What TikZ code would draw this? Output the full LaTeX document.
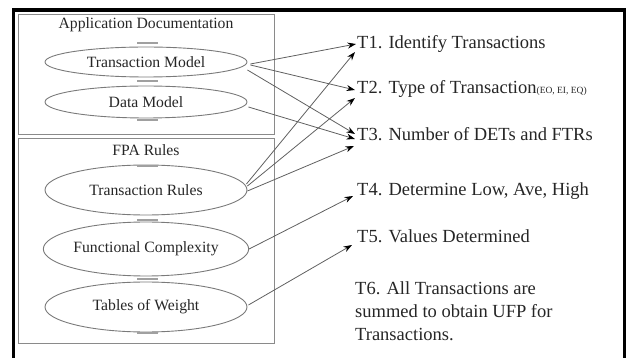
\documentclass[tikz,border=0pt]{standalone}
\usepackage{fontspec}
\setmainfont{Liberation Serif}
\usetikzlibrary{arrows.meta,shapes.geometric}

\definecolor{boxgray}{HTML}{8A8A8A}
\definecolor{ellgray}{HTML}{7A7A7A}
\definecolor{linegray}{HTML}{606060}
\definecolor{ticgray}{HTML}{A0A0A0}
\definecolor{txt}{HTML}{262626}

\begin{document}
\begin{tikzpicture}[x=1pt,y=-1pt,
  panel/.style={draw=boxgray, line width=1pt, rectangle, inner sep=0pt},
  lefttxt/.style={inner sep=0pt, font=\fontsize{15.7}{18}\selectfont, text=txt},
  usecase/.style={ellipse, draw=ellgray, line width=0.9pt, minimum width=202pt,
    inner sep=0pt, font=\fontsize{15.7}{18}\selectfont, text=txt},
  rtxt/.style={anchor=base west, inner sep=0pt, font=\fontsize{18.5}{23}\selectfont, text=txt},
  sep/.style={draw=ticgray, line width=1.6pt},
  flow/.style={draw=linegray, line width=0.8pt, -{Stealth[length=8.5pt,width=6pt,color=black]}}
]
\useasboundingbox (0,0) rectangle (630,358);

% outer frame (open at the bottom)
\draw[line width=3.5pt] (13.5,358) -- (13.5,10) -- (624.5,10) -- (624.5,358);

% the two panels
\node[panel, minimum width=256pt, minimum height=120pt] (appbox) at (146,75) {};
\node[panel, minimum width=256pt, minimum height=205pt] (fpabox) at (146,241.5) {};

\node[lefttxt] (appdoc) at (146,25) {Application Documentation};
\node[lefttxt] (fpa) at (146,150) {FPA Rules};

% use cases
\node[usecase, minimum height=30pt] (tm) at (146,62) {Transaction Model};
\node[usecase, minimum height=32pt] (dm) at (146,102) {Data Model};
\node[usecase, minimum height=50pt] (tr) at (146,190) {Transaction Rules};
\node[usecase, minimum height=54pt, minimum width=204pt] (fc) at (146,249) {Functional Complexity};
\node[usecase, minimum height=50pt] (tw) at (146,307) {Tables of Weight};

% short bars between the use cases
\foreach \yy in {43,81,120,166,220,279,333}
  \draw[sep] (137,\yy) -- (158,\yy);

% steps
\node[rtxt] (t1) at (357,49) {T1. Identify Transactions};
\node[rtxt] (t2) at (357,94) {T2. Type of Transaction{\fontsize{9.5}{10}\selectfont(EO, EI, EQ)}};
\node[rtxt] (t3) at (357,141) {T3. Number of DETs and FTRs};
\node[rtxt] (t4) at (357,196) {T4. Determine Low, Ave, High};
\node[rtxt] (t5) at (357,243) {T5. Values Determined};
\node[anchor=west, inner sep=0pt, align=left, font=\fontsize{18.5}{23}\selectfont, text=txt]
  (t6) at (355,311.5) {T6. All Transactions are\\summed to obtain UFP for\\Transactions.};

% connectors
\draw[flow] ([xshift=3pt,yshift=-2pt]tm.east) -- ([xshift=-1pt,yshift=5pt]t1.base west);
\draw[flow] ([xshift=3pt,yshift=-3pt]tm.east) -- ([xshift=-2pt,yshift=4pt]t2.base west);
\draw[flow] ([yshift=-8pt]tm.east) -- ([xshift=-2pt,yshift=7pt]t3.base west);
\draw[flow] ([xshift=1pt,yshift=-5pt]dm.east) -- ([xshift=-2pt,yshift=2pt]t3.base west);
\draw[flow] ([xshift=-1pt,yshift=6pt]tr.east) -- ([xshift=-2pt,yshift=-3pt]t1.base west);
\draw[flow] ([yshift=4pt]tr.east) -- ([xshift=-2pt,yshift=-4pt]t2.base west);
\draw[flow] ([yshift=-1pt]tr.east) -- ([xshift=-3pt,yshift=-5pt]t3.base west);
\draw[flow] (fc.east) -- ([xshift=-4pt,yshift=0pt]t4.base west);
\draw[flow] ([xshift=1pt,yshift=2pt]tw.east) -- ([xshift=-5pt,yshift=-2pt]t5.base west);
\end{tikzpicture}
\end{document}
